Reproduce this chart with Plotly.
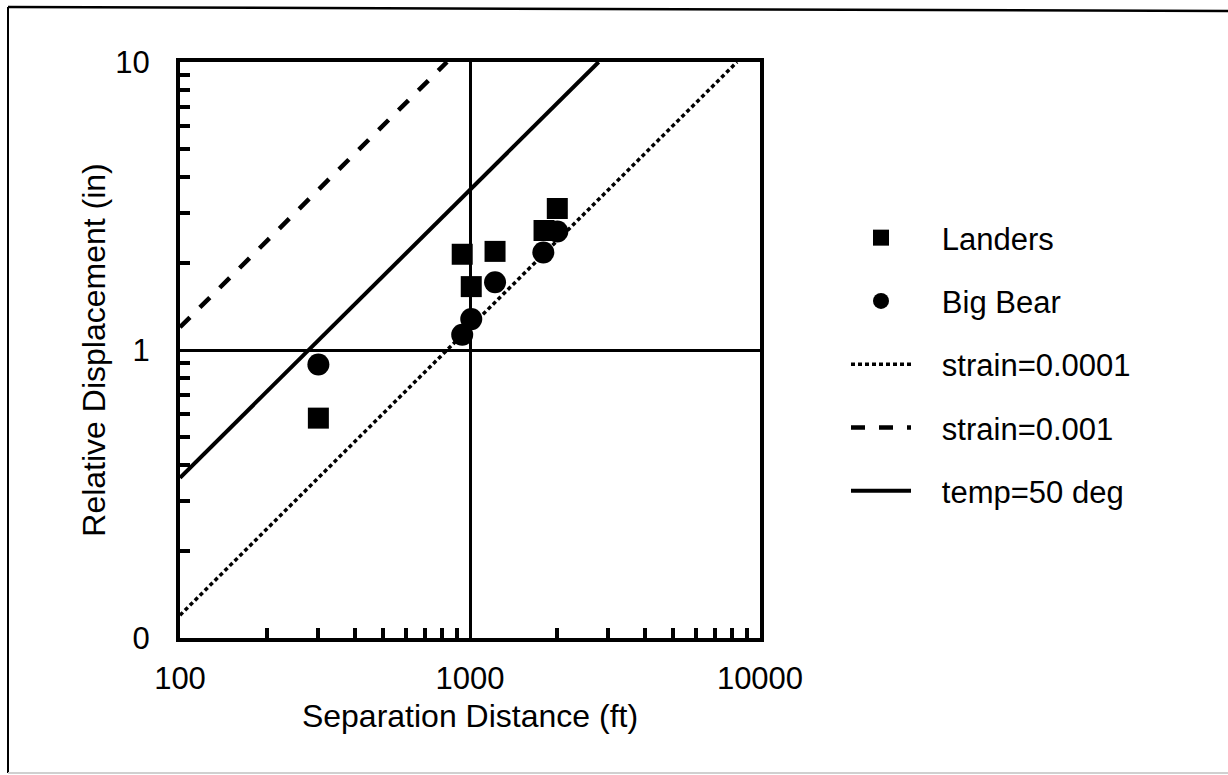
import plotly.graph_objects as go

# Measured relative displacement vs. separation distance
landers_dist = [300, 940, 1010, 1220, 1800, 2000]
landers_disp = [0.58, 2.15, 1.66, 2.2, 2.6, 3.1]

bigbear_dist = [300, 940, 1010, 1220, 1790, 2000]
bigbear_disp = [0.89, 1.13, 1.28, 1.72, 2.18, 2.58]

# Reference lines (end points across the plotted range)
strain_0001_dist = [100, 8333]
strain_0001_disp = [0.12, 10]
strain_001_dist = [100, 833]
strain_001_disp = [1.2, 10]
temp50_dist = [100, 2778]
temp50_disp = [0.36, 10]

x_ticks = [100, 1000, 10000]
x_ticktext = ["100", "1000", "10000"]
y_ticks = [0.1, 1, 10]
y_ticktext = ["0", "1", "10"]
x_minor = [200, 300, 400, 500, 600, 700, 800, 900,
           2000, 3000, 4000, 5000, 6000, 7000, 8000, 9000]
y_minor = [0.2, 0.3, 0.4, 0.5, 0.6, 0.7, 0.8, 0.9,
           2, 3, 4, 5, 6, 7, 8, 9]

FONT = "Liberation Sans, Arial, Helvetica, sans-serif"
GAP = "\u00a0\u00a0\u00a0"  # spacing between legend symbol and label

fig = go.Figure()

fig.add_trace(go.Scatter(
    x=landers_dist, y=landers_disp, mode="markers", name=GAP + "Landers",
    legendgroup="a",
    marker=dict(symbol="square", size=21, color="black"),
))
fig.add_trace(go.Scatter(
    x=bigbear_dist, y=bigbear_disp, mode="markers", name=GAP + "Big Bear",
    legendgroup="b",
    marker=dict(symbol="circle", size=22, color="black"),
))
fig.add_trace(go.Scatter(
    x=strain_0001_dist, y=strain_0001_disp, mode="lines",
    name=GAP + "strain=0.0001", legendgroup="c",
    line=dict(color="black", width=3.5, dash="4px,3px"),
))
fig.add_trace(go.Scatter(
    x=strain_001_dist, y=strain_001_disp, mode="lines",
    name=GAP + "strain=0.001", legendgroup="d",
    line=dict(color="black", width=4.5, dash="14px,14px"),
))
fig.add_trace(go.Scatter(
    x=temp50_dist, y=temp50_disp, mode="lines",
    name=GAP + "temp=50 deg", legendgroup="e",
    line=dict(color="black", width=4),
))

# Outer frame around the whole figure (left, top, bottom edges)
L, R, T, B = 180, 760, 62, 638


def px_x(p):
    return (p - L) / (R - L)


def px_y(p):
    return (B - p) / (B - T)


fig.add_shape(type="line", xref="paper", yref="paper",
              x0=px_x(8), x1=px_x(8), y0=px_y(7), y1=px_y(773),
              line=dict(color="black", width=2))
fig.add_shape(type="line", xref="paper", yref="paper",
              x0=px_x(8), x1=px_x(1228), y0=px_y(7), y1=px_y(11),
              line=dict(color="black", width=2.5))
fig.add_shape(type="line", xref="paper", yref="paper",
              x0=px_x(8), x1=px_x(1228), y0=px_y(773), y1=px_y(773),
              line=dict(color="#d0d0d0", width=2))

fig.update_layout(
    width=1228, height=775,
    margin=dict(l=L, r=1228 - R, t=T, b=775 - B),
    paper_bgcolor="white", plot_bgcolor="white",
    font=dict(family=FONT, size=31, color="black"),
    showlegend=True,
    legend=dict(
        x=px_x(846), y=px_y(211), xanchor="left", yanchor="top",
        font=dict(family=FONT, size=31, color="black"),
        bgcolor="rgba(0,0,0,0)", tracegroupgap=20, itemwidth=60,
        itemsizing="trace",
    ),
)

fig.update_xaxes(
    type="log", range=[2, 4],
    tickvals=x_ticks, ticktext=x_ticktext, ticks="",
    ticklabelstandoff=10,
    showgrid=True, gridcolor="black", gridwidth=3,
    showline=True, linecolor="black", linewidth=4, mirror=True,
    zeroline=False,
    minor=dict(tickvals=x_minor, ticks="inside", ticklen=10, tickwidth=3.5,
               tickcolor="black", showgrid=False),
    title=dict(text="Separation Distance (ft)", standoff=10,
               font=dict(family=FONT, size=32)),
)
fig.update_yaxes(
    type="log", range=[-1, 1],
    tickvals=y_ticks, ticktext=y_ticktext, ticks="",
    ticklabelstandoff=20,
    showgrid=True, gridcolor="black", gridwidth=3,
    showline=True, linecolor="black", linewidth=4, mirror=True,
    zeroline=False,
    minor=dict(tickvals=y_minor, ticks="inside", ticklen=10, tickwidth=3.5,
               tickcolor="black", showgrid=False),
    title=dict(text="Relative Displacement (in)", standoff=1,
               font=dict(family=FONT, size=32)),
)

fig.write_html("out.html")
